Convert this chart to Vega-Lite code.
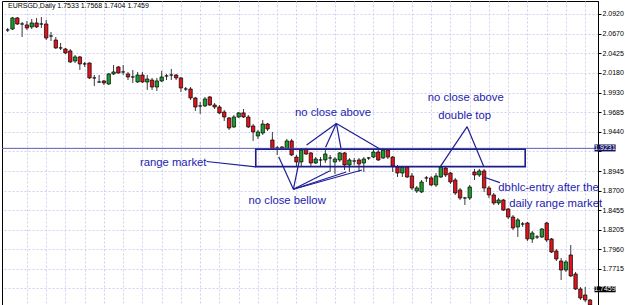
{
  "$schema": "https://vega.github.io/schema/vega-lite/v6.json",
  "width": 596,
  "height": 304,
  "autosize": {"type": "none"},
  "padding": {"left": 2, "top": 1, "right": 27, "bottom": 0},
  "background": "#ffffff",
  "config": {
    "view": {"stroke": "#000000", "strokeWidth": 1},
    "text": {"font": "Liberation Sans"},
    "axis": {"labelOverlap": false}
  },
  "datasets": {
    "candles": [
      {"i":0,"o":2.0719,"h":2.0744,"l":2.0694,"c":2.0719},
      {"i":1,"o":2.0731,"h":2.0882,"l":2.0719,"c":2.0870},
      {"i":2,"o":2.0870,"h":2.0882,"l":2.0782,"c":2.0794},
      {"i":3,"o":2.0794,"h":2.0819,"l":2.0631,"c":2.0794},
      {"i":4,"o":2.0782,"h":2.0832,"l":2.0719,"c":2.0744},
      {"i":5,"o":2.0757,"h":2.0857,"l":2.0731,"c":2.0807},
      {"i":6,"o":2.0807,"h":2.0870,"l":2.0744,"c":2.0757},
      {"i":7,"o":2.0794,"h":2.0882,"l":2.0744,"c":2.0794},
      {"i":8,"o":2.0794,"h":2.0845,"l":2.0593,"c":2.0618},
      {"i":9,"o":2.0643,"h":2.0694,"l":2.0581,"c":2.0643},
      {"i":10,"o":2.0593,"h":2.0631,"l":2.0480,"c":2.0493},
      {"i":11,"o":2.0493,"h":2.0555,"l":2.0467,"c":2.0493},
      {"i":12,"o":2.0480,"h":2.0493,"l":2.0417,"c":2.0430},
      {"i":13,"o":2.0455,"h":2.0480,"l":2.0304,"c":2.0317},
      {"i":14,"o":2.0329,"h":2.0405,"l":2.0304,"c":2.0380},
      {"i":15,"o":2.0380,"h":2.0392,"l":2.0216,"c":2.0292},
      {"i":16,"o":2.0292,"h":2.0317,"l":2.0254,"c":2.0292},
      {"i":17,"o":2.0304,"h":2.0310,"l":2.0103,"c":2.0116},
      {"i":18,"o":2.0116,"h":2.0153,"l":2.0015,"c":2.0116},
      {"i":19,"o":2.0065,"h":2.0153,"l":2.0053,"c":2.0065},
      {"i":20,"o":2.0078,"h":2.0090,"l":2.0028,"c":2.0053},
      {"i":21,"o":2.0040,"h":2.0178,"l":2.0028,"c":2.0166},
      {"i":22,"o":2.0166,"h":2.0279,"l":2.0153,"c":2.0191},
      {"i":23,"o":2.0254,"h":2.0266,"l":2.0170,"c":2.0178},
      {"i":24,"o":2.0191,"h":2.0279,"l":2.0153,"c":2.0191},
      {"i":25,"o":2.0166,"h":2.0191,"l":2.0090,"c":2.0128},
      {"i":26,"o":2.0128,"h":2.0216,"l":2.0053,"c":2.0128},
      {"i":27,"o":2.0065,"h":2.0191,"l":2.0053,"c":2.0153},
      {"i":28,"o":2.0153,"h":2.0191,"l":2.0053,"c":2.0065},
      {"i":29,"o":2.0065,"h":2.0153,"l":1.9965,"c":2.0103},
      {"i":30,"o":2.0090,"h":2.0116,"l":1.9965,"c":2.0002},
      {"i":31,"o":2.0002,"h":2.0116,"l":1.9952,"c":2.0078},
      {"i":32,"o":2.0078,"h":2.0204,"l":2.0065,"c":2.0128},
      {"i":33,"o":2.0141,"h":2.0166,"l":2.0090,"c":2.0141},
      {"i":34,"o":2.0153,"h":2.0229,"l":2.0090,"c":2.0153},
      {"i":35,"o":2.0153,"h":2.0166,"l":2.0090,"c":2.0116},
      {"i":36,"o":2.0116,"h":2.0128,"l":1.9940,"c":1.9990},
      {"i":37,"o":1.9977,"h":2.0002,"l":1.9952,"c":1.9977},
      {"i":38,"o":1.9977,"h":2.0002,"l":1.9839,"c":1.9864},
      {"i":39,"o":1.9864,"h":1.9877,"l":1.9701,"c":1.9751},
      {"i":40,"o":1.9764,"h":1.9814,"l":1.9663,"c":1.9764},
      {"i":41,"o":1.9764,"h":1.9877,"l":1.9751,"c":1.9852},
      {"i":42,"o":1.9877,"h":1.9889,"l":1.9764,"c":1.9776},
      {"i":43,"o":1.9776,"h":1.9801,"l":1.9726,"c":1.9751},
      {"i":44,"o":1.9751,"h":1.9776,"l":1.9663,"c":1.9676},
      {"i":45,"o":1.9688,"h":1.9713,"l":1.9575,"c":1.9625},
      {"i":46,"o":1.9613,"h":1.9625,"l":1.9462,"c":1.9487},
      {"i":47,"o":1.9500,"h":1.9650,"l":1.9487,"c":1.9625},
      {"i":48,"o":1.9625,"h":1.9688,"l":1.9613,"c":1.9676},
      {"i":49,"o":1.9676,"h":1.9726,"l":1.9613,"c":1.9625},
      {"i":50,"o":1.9625,"h":1.9650,"l":1.9487,"c":1.9500},
      {"i":51,"o":1.9512,"h":1.9537,"l":1.9324,"c":1.9437},
      {"i":52,"o":1.9386,"h":1.9462,"l":1.9349,"c":1.9437},
      {"i":53,"o":1.9424,"h":1.9588,"l":1.9399,"c":1.9537},
      {"i":54,"o":1.9537,"h":1.9550,"l":1.9449,"c":1.9474},
      {"i":55,"o":1.9336,"h":1.9437,"l":1.9210,"c":1.9223},
      {"i":56,"o":1.9236,"h":1.9261,"l":1.9148,"c":1.9236},
      {"i":57,"o":1.9248,"h":1.9261,"l":1.9210,"c":1.9223},
      {"i":58,"o":1.9223,"h":1.9349,"l":1.9210,"c":1.9324},
      {"i":59,"o":1.9324,"h":1.9349,"l":1.9135,"c":1.9148},
      {"i":60,"o":1.9122,"h":1.9148,"l":1.8997,"c":1.9060},
      {"i":61,"o":1.9060,"h":1.9236,"l":1.9009,"c":1.9210},
      {"i":62,"o":1.9223,"h":1.9236,"l":1.9148,"c":1.9160},
      {"i":63,"o":1.9173,"h":1.9185,"l":1.9009,"c":1.9047},
      {"i":64,"o":1.9047,"h":1.9122,"l":1.9035,"c":1.9097},
      {"i":65,"o":1.9085,"h":1.9122,"l":1.8997,"c":1.9085},
      {"i":66,"o":1.9085,"h":1.9210,"l":1.9047,"c":1.9160},
      {"i":67,"o":1.9110,"h":1.9148,"l":1.8934,"c":1.9110},
      {"i":68,"o":1.9060,"h":1.9122,"l":1.8909,"c":1.9097},
      {"i":69,"o":1.9085,"h":1.9185,"l":1.9060,"c":1.9173},
      {"i":70,"o":1.9173,"h":1.9185,"l":1.8959,"c":1.9022},
      {"i":71,"o":1.9022,"h":1.9110,"l":1.8934,"c":1.9085},
      {"i":72,"o":1.9072,"h":1.9110,"l":1.9022,"c":1.9072},
      {"i":73,"o":1.9085,"h":1.9110,"l":1.8934,"c":1.9035},
      {"i":74,"o":1.9047,"h":1.9122,"l":1.8934,"c":1.9097},
      {"i":75,"o":1.9110,"h":1.9122,"l":1.9085,"c":1.9110},
      {"i":76,"o":1.9122,"h":1.9210,"l":1.9110,"c":1.9185},
      {"i":77,"o":1.9185,"h":1.9223,"l":1.9072,"c":1.9085},
      {"i":78,"o":1.9110,"h":1.9236,"l":1.9097,"c":1.9210},
      {"i":79,"o":1.9210,"h":1.9223,"l":1.9097,"c":1.9122},
      {"i":80,"o":1.9122,"h":1.9135,"l":1.8934,"c":1.9009},
      {"i":81,"o":1.8997,"h":1.9022,"l":1.8871,"c":1.8921},
      {"i":82,"o":1.8921,"h":1.9009,"l":1.8871,"c":1.8997},
      {"i":83,"o":1.8997,"h":1.9009,"l":1.8859,"c":1.8871},
      {"i":84,"o":1.8884,"h":1.8921,"l":1.8708,"c":1.8733},
      {"i":85,"o":1.8695,"h":1.8758,"l":1.8670,"c":1.8733},
      {"i":86,"o":1.8683,"h":1.8833,"l":1.8670,"c":1.8808},
      {"i":87,"o":1.8859,"h":1.8884,"l":1.8808,"c":1.8859},
      {"i":88,"o":1.8859,"h":1.8884,"l":1.8758,"c":1.8771},
      {"i":89,"o":1.8771,"h":1.8921,"l":1.8745,"c":1.8884},
      {"i":90,"o":1.8871,"h":1.9009,"l":1.8859,"c":1.8997},
      {"i":91,"o":1.8984,"h":1.8997,"l":1.8871,"c":1.8896},
      {"i":92,"o":1.8921,"h":1.8934,"l":1.8783,"c":1.8808},
      {"i":93,"o":1.8833,"h":1.8859,"l":1.8645,"c":1.8670},
      {"i":94,"o":1.8708,"h":1.8733,"l":1.8582,"c":1.8607},
      {"i":95,"o":1.8607,"h":1.8620,"l":1.8519,"c":1.8607},
      {"i":96,"o":1.8607,"h":1.8771,"l":1.8582,"c":1.8745},
      {"i":97,"o":1.8934,"h":1.8972,"l":1.8833,"c":1.8896},
      {"i":98,"o":1.8896,"h":1.8972,"l":1.8871,"c":1.8947},
      {"i":99,"o":1.8947,"h":1.8972,"l":1.8683,"c":1.8733},
      {"i":100,"o":1.8733,"h":1.8758,"l":1.8607,"c":1.8645},
      {"i":101,"o":1.8645,"h":1.8670,"l":1.8519,"c":1.8544},
      {"i":102,"o":1.8544,"h":1.8607,"l":1.8519,"c":1.8582},
      {"i":103,"o":1.8582,"h":1.8595,"l":1.8444,"c":1.8456},
      {"i":104,"o":1.8469,"h":1.8481,"l":1.8343,"c":1.8368},
      {"i":105,"o":1.8368,"h":1.8393,"l":1.8205,"c":1.8230},
      {"i":106,"o":1.8243,"h":1.8356,"l":1.8117,"c":1.8331},
      {"i":107,"o":1.8280,"h":1.8306,"l":1.8243,"c":1.8280},
      {"i":108,"o":1.8293,"h":1.8306,"l":1.8067,"c":1.8092},
      {"i":109,"o":1.8092,"h":1.8192,"l":1.8042,"c":1.8167},
      {"i":110,"o":1.8117,"h":1.8142,"l":1.8092,"c":1.8117},
      {"i":111,"o":1.8117,"h":1.8230,"l":1.8104,"c":1.8217},
      {"i":112,"o":1.8293,"h":1.8306,"l":1.8054,"c":1.8079},
      {"i":113,"o":1.8092,"h":1.8104,"l":1.7916,"c":1.7928},
      {"i":114,"o":1.7941,"h":1.7966,"l":1.7815,"c":1.7840},
      {"i":115,"o":1.7815,"h":1.7853,"l":1.7576,"c":1.7702},
      {"i":116,"o":1.7702,"h":1.7828,"l":1.7677,"c":1.7803},
      {"i":117,"o":1.7891,"h":1.8016,"l":1.7614,"c":1.7627},
      {"i":118,"o":1.7652,"h":1.7677,"l":1.7451,"c":1.7463},
      {"i":119,"o":1.7463,"h":1.7488,"l":1.7325,"c":1.7350},
      {"i":120,"o":1.7388,"h":1.7488,"l":1.7300,"c":1.7325},
      {"i":121,"o":1.7325,"h":1.7338,"l":1.7224,"c":1.7262}
    ],
    "hline": [{"p": 1.9231}],
    "box": [{"x1": 51.55, "x2": 107.53, "y1": 1.9219, "y2": 1.9001}],
    "segs": [
      {"x1": 41.33, "y1": 1.9066, "x2": 51.55, "y2": 1.8997},
      {"x1": 68.30, "y1": 1.9544, "x2": 62.11, "y2": 1.9273},
      {"x1": 68.30, "y1": 1.9544, "x2": 66.05, "y2": 1.9244},
      {"x1": 68.30, "y1": 1.9544, "x2": 69.26, "y2": 1.9232},
      {"x1": 68.30, "y1": 1.9544, "x2": 77.43, "y2": 1.9219},
      {"x1": 59.37, "y1": 1.8717, "x2": 56.31, "y2": 1.9126},
      {"x1": 59.37, "y1": 1.8717, "x2": 60.54, "y2": 1.9060},
      {"x1": 59.37, "y1": 1.8717, "x2": 66.87, "y2": 1.8947},
      {"x1": 59.37, "y1": 1.8717, "x2": 70.34, "y2": 1.8934},
      {"x1": 59.37, "y1": 1.8717, "x2": 73.61, "y2": 1.8959},
      {"x1": 95.47, "y1": 1.9503, "x2": 89.89, "y2": 1.9001},
      {"x1": 95.47, "y1": 1.9503, "x2": 98.88, "y2": 1.9009},
      {"x1": 99.01, "y1": 1.8867, "x2": 102.27, "y2": 1.8800}
    ],
    "notesC": [
      {"i": 34.39, "p": 1.9043, "t": "range market"},
      {"i": 67.59, "p": 1.9672, "t": "no close above"},
      {"i": 58.08, "p": 1.8569, "t": "no close bellow"},
      {"i": 95.17, "p": 1.9870, "t": "no close above"},
      {"i": 94.96, "p": 1.9638, "t": "double top"}
    ],
    "notesL": [
      {"i": 101.95, "p": 1.8733, "t": "dbhlc-entry after the"},
      {"i": 104.20, "p": 1.8532, "t": "daily range market"}
    ],
    "title": [{"i": 0.06, "p": 2.1021, "t": "EURSGD,Daily  1.7533 1.7568 1.7404 1.7459"}],
    "pbox": [
      {"x1": 121.93, "x2": 126.32, "y1": 1.9280, "y2": 1.9192, "p": 1.9231, "t": "1.9231"},
      {"x1": 121.93, "x2": 126.32, "y1": 1.7497, "y2": 1.7422, "p": 1.7459, "t": "1.7459"}
    ]
  },
  "layer": [
    {
      "data": {"name": "candles"},
      "mark": {"type": "rule", "color": "#3a3a3a", "strokeWidth": 1},
      "encoding": {
        "x": {
          "field": "i", "type": "quantitative",
          "scale": {"domain": [-0.14, 121.62], "nice": false, "zero": false},
          "axis": {
            "orient": "bottom", "title": null, "labels": false, "ticks": false, "domain": false,
            "tickCount": 60,
            "grid": true, "gridColor": "#cfcff0", "gridDash": [2, 2], "gridWidth": 1,
            "values": [4,8,12,16,20,24,28,32,36,40,44,48,52,56,60,64,68,72,76,80,84,88,92,96,100,104,108,112,116,120]
          }
        },
        "y": {
          "field": "h", "type": "quantitative",
          "scale": {"domain": [1.7262, 2.1083], "nice": false, "zero": false},
          "axis": {
            "orient": "right", "title": null, "format": ".4f",
            "tickCount": 40,
            "values": [2.0920, 2.0670, 2.0425, 2.0180, 1.9930, 1.9685, 1.9440, 1.9195, 1.8945, 1.8700, 1.8455, 1.8205, 1.7960, 1.7715, 1.7470],
            "labelExpr": "abs(datum.value - 1.9195) < 0.0001 || abs(datum.value - 1.747) < 0.0001 ? '' : datum.label",
            "labelOverlap": false,
            "grid": true, "gridColor": "#cfcff0", "gridDash": [2, 2], "gridWidth": 1,
            "domain": true, "domainColor": "#000000", "domainWidth": 1,
            "ticks": true, "tickSize": 3, "tickColor": "#000000",
            "labelFont": "Liberation Sans Narrow, Liberation Sans", "labelFontSize": 7, "labelColor": "#000000",
            "labelPadding": 1
          }
        },
        "y2": {"field": "l"}
      }
    },
    {
      "data": {"name": "candles"},
      "mark": {"type": "bar", "size": 3.4, "stroke": "#000000", "strokeWidth": 0.7},
      "encoding": {
        "x": {"field": "i", "type": "quantitative", "axis": {"title": null}},
        "y": {"field": "o", "type": "quantitative", "axis": {"title": null}},
        "y2": {"field": "c"},
        "color": {"condition": {"test": "datum.c > datum.o", "value": "#1c9c2c"}, "value": "#e0141c"}
      }
    },
    {
      "data": {"name": "hline"},
      "mark": {"type": "rule", "color": "#5c5cb4", "strokeWidth": 1},
      "encoding": {
        "y": {"field": "p", "type": "quantitative", "axis": {"title": null}}
      }
    },
    {
      "data": {"name": "box"},
      "mark": {"type": "rect", "fill": null, "filled": false, "stroke": "#1c1c8c", "strokeWidth": 1.6},
      "encoding": {
        "x": {"field": "x1", "type": "quantitative", "axis": {"title": null}},
        "x2": {"field": "x2"},
        "y": {"field": "y1", "type": "quantitative", "axis": {"title": null}},
        "y2": {"field": "y2"}
      }
    },
    {
      "data": {"name": "segs"},
      "mark": {"type": "rule", "color": "#1e1e96", "strokeWidth": 1.2},
      "encoding": {
        "x": {"field": "x1", "type": "quantitative", "axis": {"title": null}},
        "x2": {"field": "x2"},
        "y": {"field": "y1", "type": "quantitative", "axis": {"title": null}},
        "y2": {"field": "y2"}
      }
    },
    {
      "data": {"name": "notesC"},
      "mark": {"type": "text", "align": "center", "baseline": "middle", "fontSize": 11.3, "color": "#1c1cae", "font": "Liberation Sans"},
      "encoding": {
        "x": {"field": "i", "type": "quantitative", "axis": {"title": null}},
        "y": {"field": "p", "type": "quantitative", "axis": {"title": null}},
        "text": {"field": "t"}
      }
    },
    {
      "data": {"name": "notesL"},
      "mark": {"type": "text", "align": "left", "baseline": "middle", "fontSize": 11.3, "color": "#1c1cae", "font": "Liberation Sans"},
      "encoding": {
        "x": {"field": "i", "type": "quantitative", "axis": {"title": null}},
        "y": {"field": "p", "type": "quantitative", "axis": {"title": null}},
        "text": {"field": "t"}
      }
    },
    {
      "data": {"name": "title"},
      "mark": {"type": "text", "align": "left", "baseline": "middle", "fontSize": 7, "color": "#000000", "font": "Liberation Sans Narrow, Liberation Sans"},
      "encoding": {
        "x": {"field": "i", "type": "quantitative", "axis": {"title": null}},
        "y": {"field": "p", "type": "quantitative", "axis": {"title": null}},
        "text": {"field": "t"}
      }
    },
    {
      "data": {"name": "pbox"},
      "mark": {"type": "rect"},
      "encoding": {
        "x": {"field": "x1", "type": "quantitative", "axis": {"title": null}},
        "x2": {"field": "x2"},
        "y": {"field": "y1", "type": "quantitative", "axis": {"title": null}},
        "y2": {"field": "y2"},
        "color": {"condition": {"test": "datum.p > 1.8", "value": "#161660"}, "value": "#000000"}
      }
    },
    {
      "data": {"name": "pbox"},
      "mark": {"type": "text", "align": "center", "baseline": "middle", "fontSize": 7, "color": "#ffffff", "font": "Liberation Sans Narrow, Liberation Sans"},
      "encoding": {
        "x": {"datum": 124.1, "type": "quantitative", "axis": {"title": null}},
        "y": {"field": "p", "type": "quantitative", "axis": {"title": null}},
        "text": {"field": "t"}
      }
    }
  ]
}
